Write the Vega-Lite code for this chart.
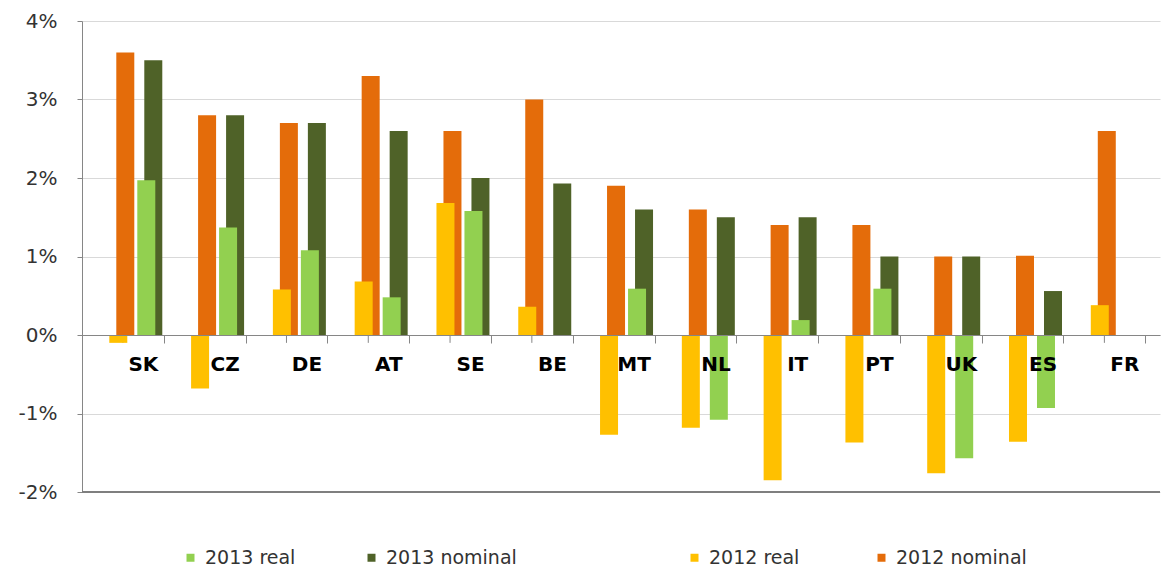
{
  "$schema": "https://vega.github.io/schema/vega-lite/v6.json",
  "autosize": {"type": "none"},
  "padding": {"left": 82, "top": 21, "right": 3, "bottom": 78},
  "width": 1078,
  "height": 471,
  "background": "#ffffff",
  "config": {
    "view": {"stroke": null},
    "font": "DejaVu Sans"
  },
  "data": {
    "values": [
      {"country": "SK", "series": "2012 nominal", "year": 2012, "value": 3.6},
      {"country": "CZ", "series": "2012 nominal", "year": 2012, "value": 2.8},
      {"country": "DE", "series": "2012 nominal", "year": 2012, "value": 2.7},
      {"country": "AT", "series": "2012 nominal", "year": 2012, "value": 3.3},
      {"country": "SE", "series": "2012 nominal", "year": 2012, "value": 2.6},
      {"country": "BE", "series": "2012 nominal", "year": 2012, "value": 3.0},
      {"country": "MT", "series": "2012 nominal", "year": 2012, "value": 1.9},
      {"country": "NL", "series": "2012 nominal", "year": 2012, "value": 1.6},
      {"country": "IT", "series": "2012 nominal", "year": 2012, "value": 1.4},
      {"country": "PT", "series": "2012 nominal", "year": 2012, "value": 1.4},
      {"country": "UK", "series": "2012 nominal", "year": 2012, "value": 1.0},
      {"country": "ES", "series": "2012 nominal", "year": 2012, "value": 1.01},
      {"country": "FR", "series": "2012 nominal", "year": 2012, "value": 2.6},
      {"country": "SK", "series": "2012 real", "year": 2012, "value": -0.1},
      {"country": "CZ", "series": "2012 real", "year": 2012, "value": -0.68},
      {"country": "DE", "series": "2012 real", "year": 2012, "value": 0.58},
      {"country": "AT", "series": "2012 real", "year": 2012, "value": 0.68},
      {"country": "SE", "series": "2012 real", "year": 2012, "value": 1.68},
      {"country": "BE", "series": "2012 real", "year": 2012, "value": 0.36},
      {"country": "MT", "series": "2012 real", "year": 2012, "value": -1.27},
      {"country": "NL", "series": "2012 real", "year": 2012, "value": -1.18},
      {"country": "IT", "series": "2012 real", "year": 2012, "value": -1.85},
      {"country": "PT", "series": "2012 real", "year": 2012, "value": -1.37},
      {"country": "UK", "series": "2012 real", "year": 2012, "value": -1.76},
      {"country": "ES", "series": "2012 real", "year": 2012, "value": -1.36},
      {"country": "FR", "series": "2012 real", "year": 2012, "value": 0.38},
      {"country": "SK", "series": "2013 nominal", "year": 2013, "value": 3.5},
      {"country": "CZ", "series": "2013 nominal", "year": 2013, "value": 2.8},
      {"country": "DE", "series": "2013 nominal", "year": 2013, "value": 2.7},
      {"country": "AT", "series": "2013 nominal", "year": 2013, "value": 2.6},
      {"country": "SE", "series": "2013 nominal", "year": 2013, "value": 2.0},
      {"country": "BE", "series": "2013 nominal", "year": 2013, "value": 1.93},
      {"country": "MT", "series": "2013 nominal", "year": 2013, "value": 1.6},
      {"country": "NL", "series": "2013 nominal", "year": 2013, "value": 1.5},
      {"country": "IT", "series": "2013 nominal", "year": 2013, "value": 1.5},
      {"country": "PT", "series": "2013 nominal", "year": 2013, "value": 1.0},
      {"country": "UK", "series": "2013 nominal", "year": 2013, "value": 1.0},
      {"country": "ES", "series": "2013 nominal", "year": 2013, "value": 0.56},
      {"country": "SK", "series": "2013 real", "year": 2013, "value": 1.97},
      {"country": "CZ", "series": "2013 real", "year": 2013, "value": 1.37},
      {"country": "DE", "series": "2013 real", "year": 2013, "value": 1.08},
      {"country": "AT", "series": "2013 real", "year": 2013, "value": 0.48},
      {"country": "SE", "series": "2013 real", "year": 2013, "value": 1.58},
      {"country": "MT", "series": "2013 real", "year": 2013, "value": 0.59},
      {"country": "NL", "series": "2013 real", "year": 2013, "value": -1.08},
      {"country": "IT", "series": "2013 real", "year": 2013, "value": 0.19},
      {"country": "PT", "series": "2013 real", "year": 2013, "value": 0.59},
      {"country": "UK", "series": "2013 real", "year": 2013, "value": -1.57},
      {"country": "ES", "series": "2013 real", "year": 2013, "value": -0.93}
    ]
  },
  "layer": [
    {
      "transform": [{"filter": "datum.series === '2012 nominal'"}],
      "mark": {"type": "rule", "color": "#868686", "strokeWidth": 1},
      "encoding": {
        "x": {
          "field": "country", "type": "nominal",
          "scale": {"domain": ["SK","CZ","DE","AT","SE","BE","MT","NL","IT","PT","UK","ES","FR"], "paddingInner": 0, "paddingOuter": 0.09, "align": 0, "round": false},
          "axis": {"title": null, "orient": "bottom", "offset": -157, "tickBand": "extent", "labelOffset": 20, "labelAngle": 0, "labelFont": "DejaVu Sans", "labelFontWeight": "bold", "labelFontSize": 20, "labelColor": "#000000", "labelPadding": 11, "tickSize": 8, "tickColor": "#868686", "domainColor": "#868686", "grid": false, "zindex": 1}
        },
        "y": {"datum": 0, "type": "quantitative"},
        "y2": {"datum": -0.1}
      }
    },
    {
      "mark": {"type": "rule", "color": "#7f7f7f", "strokeWidth": 1.5},
      "encoding": {"y": {"datum": -2, "type": "quantitative"}}
    },
    {
      "transform": [{"filter": "datum.year === 2012"}],
      "mark": {"type": "bar", "width": 18},
      "encoding": {
        "x": {"field": "country", "type": "nominal"},
        "xOffset": {"field": "series", "type": "nominal", "scale": {"domain": ["p1","p2","p3","p4","2012 real","2012 nominal","gap1","gap2","2013 real","2013 nominal","p5"], "paddingInner": 0, "paddingOuter": 0.343, "align": 1, "round": false}},
        "y": {
          "field": "value", "type": "quantitative",
          "scale": {"domain": [-2, 4], "nice": false, "zero": false},
          "axis": {"title": null, "values": [-2,-1,0,1,2,3,4], "labelExpr": "datum.value + '%'", "grid": true, "gridColor": "#D9D9D9", "domainColor": "#868686", "tickColor": "#868686", "tickSize": 5, "labelPadding": 20, "labelFontSize": 20, "labelFont": "DejaVu Sans", "labelColor": "#333333"}
        },
        "color": {
          "field": "series", "type": "nominal",
          "scale": {"domain": ["2012 real","2012 nominal"], "range": ["#FFC000","#E46C0A"]},
          "legend": {"title": null, "orient": "none", "legendX": 603, "legendY": 527, "direction": "horizontal", "columnPadding": 72, "symbolType": "square", "symbolSize": 64, "symbolStrokeWidth": 0, "labelFont": "DejaVu Sans", "labelFontSize": 19, "labelColor": "#333333", "labelOffset": 5, "labelLimit": 300}
        }
      }
    },
    {
      "transform": [{"filter": "datum.year === 2013"}],
      "mark": {"type": "bar", "width": 18},
      "encoding": {
        "x": {"field": "country", "type": "nominal"},
        "xOffset": {"field": "series", "type": "nominal"},
        "y": {"field": "value", "type": "quantitative"},
        "color": {
          "field": "series", "type": "nominal",
          "scale": {"domain": ["2013 real","2013 nominal"], "range": ["#92D050","#4F6228"]},
          "legend": {"title": null, "orient": "none", "legendX": 99, "legendY": 527, "direction": "horizontal", "columnPadding": 66, "symbolType": "square", "symbolSize": 64, "symbolStrokeWidth": 0, "labelFont": "DejaVu Sans", "labelFontSize": 19, "labelColor": "#333333", "labelOffset": 5, "labelLimit": 300}
        }
      }
    }
  ],
  "resolve": {"scale": {"color": "independent"}}
}
